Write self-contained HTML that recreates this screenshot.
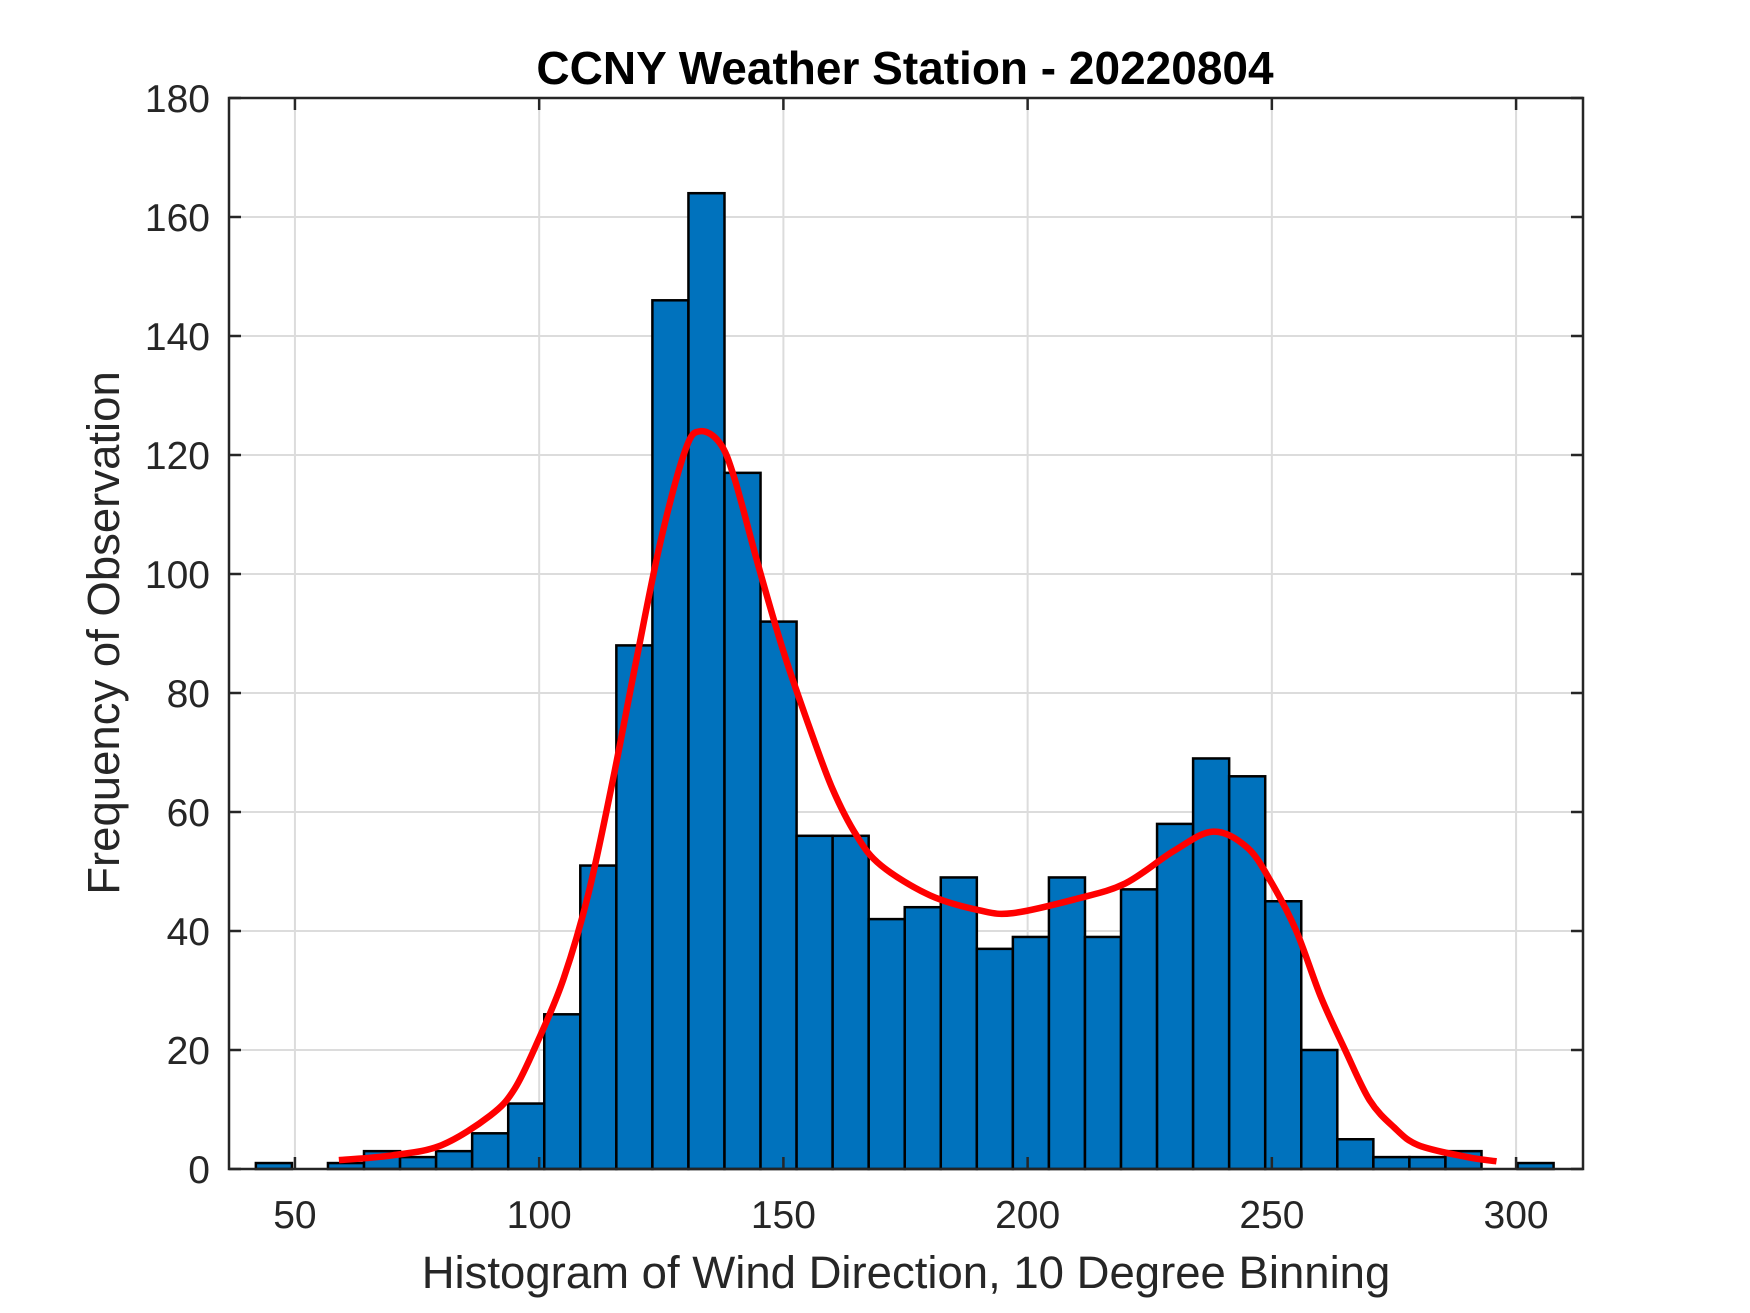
<!DOCTYPE html>
<html><head><meta charset="utf-8">
<style>
html,body{margin:0;padding:0;background:#fff;}
svg{display:block;}
text{font-family:"Liberation Sans",Arial,sans-serif;}
</style></head>
<body>
<svg id="chart" width="1750" height="1313" viewBox="0 0 1750 1313">
<rect x="0" y="0" width="1750" height="1313" fill="#fff"/>
<g id="grid"></g>
<g id="bars"></g>
<g id="curve"></g>
<g id="axes"></g>
<text x="905" y="84" text-anchor="middle" font-size="46" font-weight="bold" fill="#000">CCNY Weather Station - 20220804</text>
<text x="906" y="1288" text-anchor="middle" font-size="45.5" fill="#262626">Histogram of Wind Direction, 10 Degree Binning</text>
<text x="0" y="0" transform="translate(119,633) rotate(-90)" text-anchor="middle" font-size="45.5" fill="#262626">Frequency of Observation</text>
</svg>
<script>
const binStart = 42.0;
const binWidth = 7.38;
const counts = [1,0,1,3,2,3,6,11,26,51,88,146,164,117,92,56,56,42,44,49,37,39,49,39,47,58,69,66,45,20,5,2,2,3,0,1];
const curveX = [59,70,80,90,95,100,105,110,115,120,125,130,133,137,140,145,150,155,160,165,170,180,190,197,210,220,230,238,245,250,255,260,265,270,275,280,290,296];
const curveY = [1.5,2.3,4,9,13.5,22,32,46,65,86,106,121,124,122,116,101,87,75,64,56,51,46,43.5,43,45.4,48,53.5,56.7,54,48,40,29,20,11.6,7,4,2,1.3];
const xTicks = [50,100,150,200,250,300];
const yTicks = [0,20,40,60,80,100,120,140,160,180];

const L=229,R=1583,T=98,B=1169;
const xMin=36.5,xMax=313.7,yMin=0,yMax=180;
function sx(v){return L+(v-xMin)/(xMax-xMin)*(R-L);}
function sy(v){return B-(v-yMin)/(yMax-yMin)*(B-T);}
const NS="http://www.w3.org/2000/svg";
function mk(tag,attrs,parent){const e=document.createElementNS(NS,tag);for(const k in attrs)e.setAttribute(k,attrs[k]);parent.appendChild(e);return e;}
const grid=document.getElementById('grid'),bars=document.getElementById('bars'),curve=document.getElementById('curve'),axes=document.getElementById('axes');

xTicks.forEach(t=>{
  const g=mk('line',{x1:sx(t),x2:sx(t),y1:T,y2:B,stroke:'#dcdcdc','stroke-width':2},grid);
  
  
});
yTicks.forEach(t=>{
  const g=mk('line',{x1:L,x2:R,y1:sy(t),y2:sy(t),stroke:'#dcdcdc','stroke-width':2},grid);
  
  
});

counts.forEach((c,i)=>{
  if(c<=0)return;
  const x0=sx(binStart+i*binWidth),x1=sx(binStart+(i+1)*binWidth);
  const r=mk('rect',{x:x0,y:sy(c),width:x1-x0,height:sy(0)-sy(c),fill:'#0072bd',stroke:'#000','stroke-width':2.5},bars);
  
  
});

// Catmull-Rom smoothing through data points
const pts=curveX.map((v,i)=>[sx(v),sy(curveY[i])]);
let d='M'+pts[0][0].toFixed(1)+' '+pts[0][1].toFixed(1);
for(let i=0;i<pts.length-1;i++){
  const p0=pts[Math.max(0,i-1)],p1=pts[i],p2=pts[i+1],p3=pts[Math.min(pts.length-1,i+2)];
  const c1=[p1[0]+(p2[0]-p0[0])/6,p1[1]+(p2[1]-p0[1])/6];
  const c2=[p2[0]-(p3[0]-p1[0])/6,p2[1]-(p3[1]-p1[1])/6];
  d+='C'+c1[0].toFixed(1)+' '+c1[1].toFixed(1)+' '+c2[0].toFixed(1)+' '+c2[1].toFixed(1)+' '+p2[0].toFixed(1)+' '+p2[1].toFixed(1);
}
const p=mk('path',{d:d,fill:'none',stroke:'#ff0000','stroke-width':6.5,'stroke-linejoin':'round','stroke-linecap':'butt'},curve);



const box=mk('rect',{x:L,y:T,width:R-L,height:B-T,fill:'none',stroke:'#262626','stroke-width':2.5},axes);



xTicks.forEach(t=>{
  const x=sx(t);
  mk('line',{x1:x,x2:x,y1:B,y2:B-12,stroke:'#262626','stroke-width':2.5},axes);
  mk('line',{x1:x,x2:x,y1:T,y2:T+12,stroke:'#262626','stroke-width':2.5},axes);
  const lb=mk('text',{x:x,y:1228,'text-anchor':'middle','font-size':39,fill:'#262626'},axes);
  lb.textContent=t;
  
  
});
yTicks.forEach(t=>{
  const y=sy(t);
  mk('line',{x1:L,x2:L+12,y1:y,y2:y,stroke:'#262626','stroke-width':2.5},axes);
  mk('line',{x1:R,x2:R-12,y1:y,y2:y,stroke:'#262626','stroke-width':2.5},axes);
  const lb=mk('text',{x:210,y:y+14,'text-anchor':'end','font-size':39,fill:'#262626'},axes);
  lb.textContent=t;
  
  
});
</script>
</body></html>
